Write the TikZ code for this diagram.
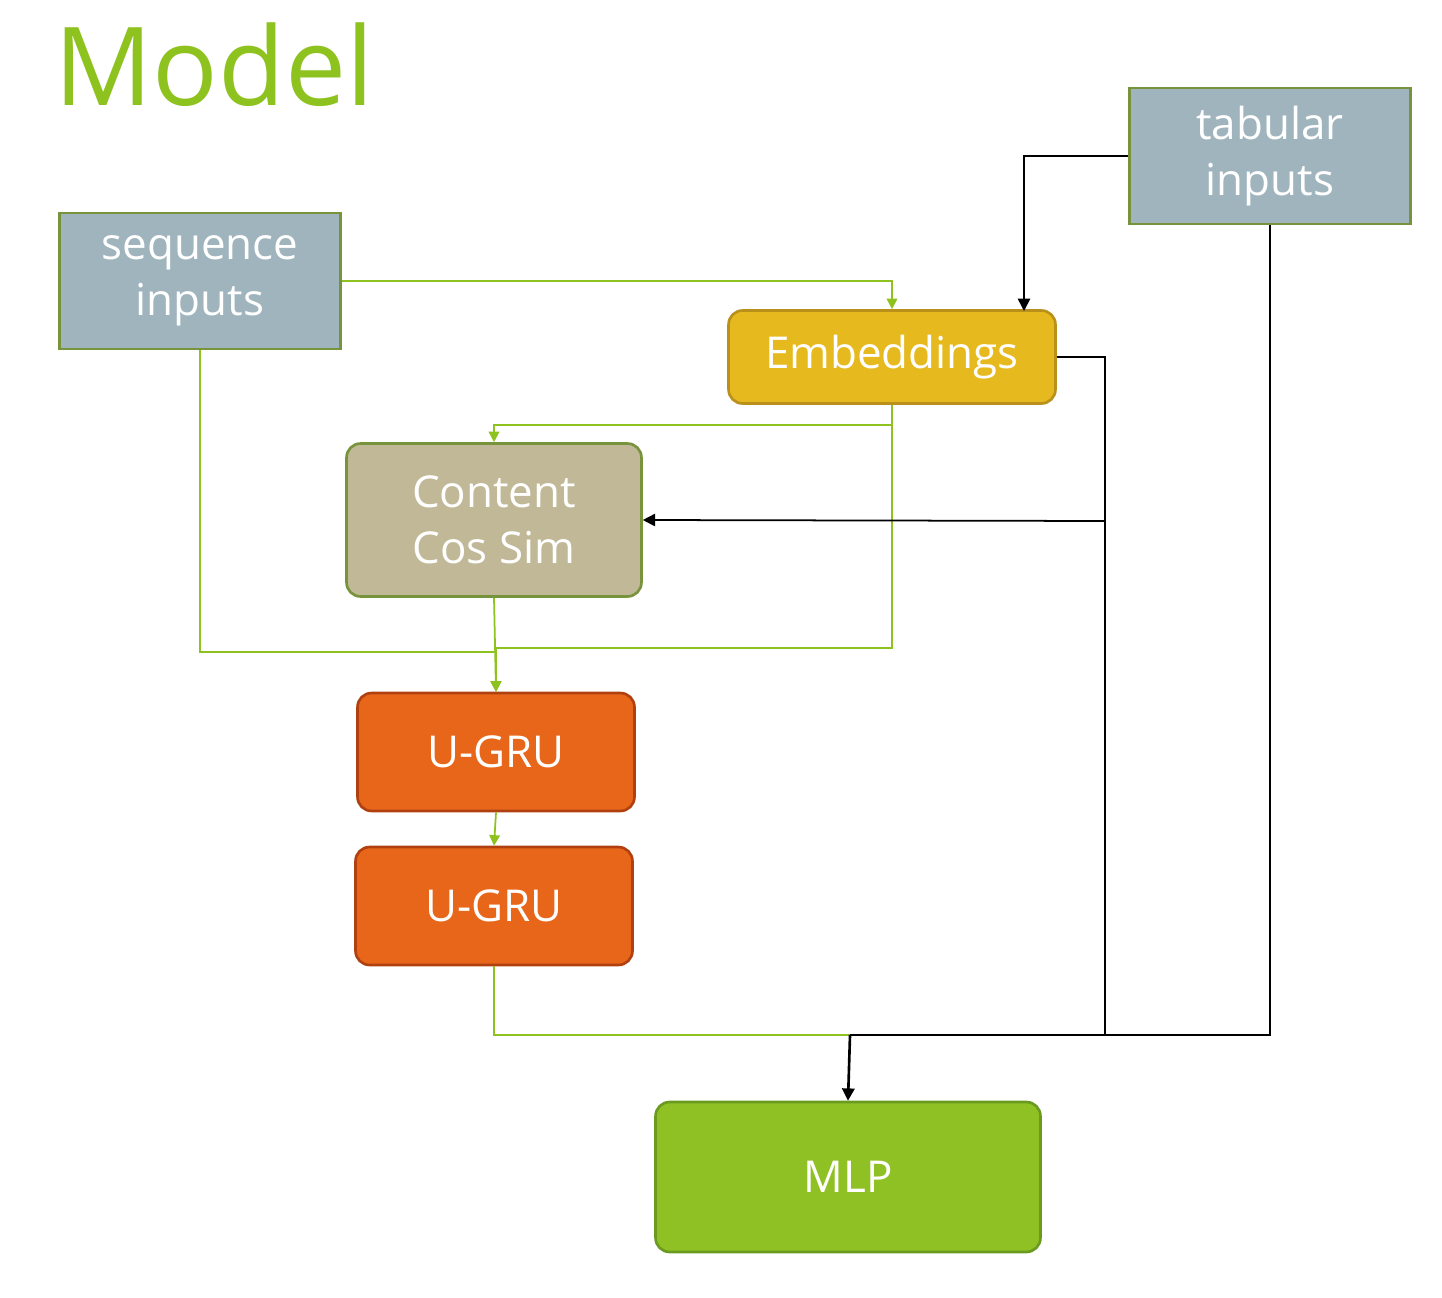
\documentclass[tikz,border=0pt]{standalone}
\usepackage{fontspec}
\setmainfont{Open Sans}
\usetikzlibrary{arrows.meta,positioning}
\definecolor{inputfill}{HTML}{A0B4BE}
\definecolor{boxgreen}{HTML}{77933C}
\definecolor{linegreen}{HTML}{8DC21F}
\definecolor{embfill}{HTML}{E6B91E}
\definecolor{embdraw}{HTML}{B8901A}
\definecolor{simfill}{HTML}{C0B896}
\definecolor{grufill}{HTML}{E8661A}
\definecolor{grudraw}{HTML}{B04010}
\definecolor{mlpfill}{HTML}{8FC124}
\definecolor{mlpdraw}{HTML}{6A9A20}
\begin{document}
\begin{tikzpicture}[x=0.02cm,y=-0.02cm,
        input/.style={rectangle, draw=boxgreen, line width=1.5pt, fill=inputfill, text=white, align=center, font=\fontsize{25}{32}\selectfont},
        block/.style={rectangle, rounded corners=8pt, line width=1.5pt, text=white, align=center, font=\fontsize{25}{32}\selectfont},
        green arrow/.style={draw=linegreen, line width=1pt, -{Triangle[length=6pt,width=6pt]}},
        black arrow/.style={draw=black, line width=1pt, -{Triangle[length=7pt,width=7pt]}}
    ]
        \useasboundingbox (0,0) rectangle (1442,1297);
        % Title
        \node[anchor=west, text=linegreen, font=\fontsize{62}{70}\selectfont] (title) at (48,65) {Model};

        % Inputs
        \node[input, minimum width=5.62cm, minimum height=2.72cm] (seq) at (200,281) {sequence\\inputs};
        \node[input, minimum width=5.62cm, minimum height=2.72cm] (tab) at (1270,156) {tabular\\inputs};

        % Blocks
        \node[block, draw=embdraw, fill=embfill, minimum width=6.54cm, minimum height=1.86cm] (emb) at (892,357) {Embeddings};
        \node[block, draw=boxgreen, fill=simfill, minimum width=5.9cm, minimum height=3.06cm] (sim) at (494,520) {Content\\Cos Sim};
        \node[block, draw=grudraw, fill=grufill, minimum width=5.54cm, minimum height=2.36cm] (gru1) at (496,752) {U-GRU};
        \node[block, draw=grudraw, fill=grufill, minimum width=5.54cm, minimum height=2.36cm] (gru2) at (494,906) {U-GRU};
        \node[block, draw=mlpdraw, fill=mlpfill, minimum width=7.7cm, minimum height=3cm] (mlp) at (848,1177) {MLP};

        % Junctions
        \coordinate (embsplit) at (1105,521);
        \coordinate (merge) at (850,1035);

        % Green connectors
        \draw[green arrow] (seq.east) -| (emb.north);
        \draw[green arrow] (emb.south) -- ++(0,20) -| (sim.north);
        \draw[green arrow] (emb.south) -- (892,648) -| (gru1.north);
        \draw[green arrow] (seq.south) -- (200,652) -| (gru1.north);
        \draw[green arrow] (sim.south) -- (gru1.north);
        \draw[green arrow] (gru1.south) -- (gru2.north);
        \draw[draw=linegreen, line width=1pt] (gru2.south) |- (merge);

        % Black connectors
        \draw[black arrow] (tab.west) -| (1024,311);
        \draw[line width=1pt] (emb.east) -| (embsplit) |- (merge);
        \draw[black arrow] (embsplit) -- (sim.east);
        \draw[line width=1pt] (tab.south) |- (merge);
        \draw[black arrow, line width=1.5pt] (merge) -- (mlp.north);
\end{tikzpicture}
\end{document}
